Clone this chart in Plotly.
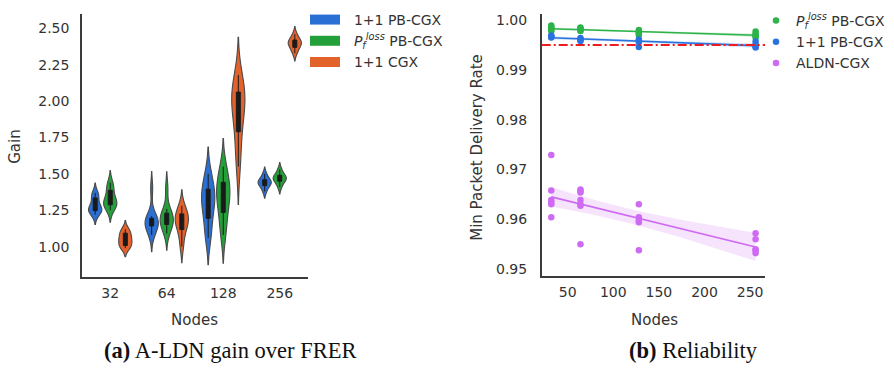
import numpy as np
import plotly.graph_objects as go

# ---------------- data: (a) gain violins ----------------
NODES = ["32", "64", "128", "256"]
SERIES_A = ["1+1 PB-CGX", "<i>P</i><sub><i>f</i></sub><sup><i>loss</i></sup> PB-CGX", "1+1 CGX"]

gain_11_pb = [
    [1.22, 1.24, 1.25, 1.26, 1.26, 1.28, 1.33, 1.35, 1.37],
    [1.08, 1.12, 1.15, 1.16, 1.17, 1.17, 1.19, 1.21, 1.40],
    [1.06, 1.12, 1.22, 1.28, 1.32, 1.34, 1.38, 1.44, 1.50],
    [1.38, 1.41, 1.43, 1.44, 1.445, 1.45, 1.47, 1.50],
]
gain_pf_pb = [
    [1.25, 1.28, 1.29, 1.30, 1.31, 1.33, 1.38, 1.41, 1.44],
    [1.09, 1.13, 1.16, 1.18, 1.19, 1.20, 1.22, 1.26, 1.40],
    [1.08, 1.16, 1.26, 1.31, 1.36, 1.38, 1.43, 1.48, 1.55],
    [1.41, 1.44, 1.46, 1.47, 1.47, 1.48, 1.50, 1.53],
]
gain_11_cgx = [
    [0.99, 1.00, 1.01, 1.04, 1.045, 1.06, 1.09, 1.10, 1.12],
    [1.00, 1.08, 1.13, 1.16, 1.18, 1.19, 1.22, 1.24, 1.28],
    [1.55, 1.70, 1.82, 1.92, 1.99, 2.01, 2.05, 2.10, 2.18],
    [2.33, 2.36, 2.38, 2.40, 2.40, 2.41, 2.43, 2.46],
]
GAIN_TICKS = [1.00, 1.25, 1.50, 1.75, 2.00, 2.25, 2.50]

# ---------------- data: (b) reliability ----------------
REL_NODES = [32, 64, 128, 256]
rel_pf_pb = [
    [0.9989, 0.9986, 0.9984, 0.9980, 0.9978],
    [0.9985, 0.9983, 0.9982, 0.9979, 0.9978],
    [0.9980, 0.9977, 0.9975, 0.9972, 0.9970],
    [0.9977, 0.9972, 0.9970, 0.9968, 0.9965],
]
rel_11_pb = [
    [0.9969, 0.9967, 0.9966, 0.9965],
    [0.9964, 0.9962, 0.9960, 0.9958],
    [0.9961, 0.9958, 0.9956, 0.9946],
    [0.9957, 0.9951, 0.9947, 0.9945],
]
rel_aldn = [
    [0.9729, 0.9658, 0.9639, 0.9635, 0.9630, 0.9604],
    [0.9660, 0.9657, 0.9654, 0.9639, 0.9630, 0.9627, 0.9550],
    [0.9630, 0.9604, 0.9598, 0.9594, 0.9538],
    [0.9572, 0.9560, 0.9540, 0.9538, 0.9532],
]
SERIES_B = ["<i>P</i><sub><i>f</i></sub><sup><i>loss</i></sup> PB-CGX", "1+1 PB-CGX", "ALDN-CGX"]
THRESHOLD = 0.995
REL_XTICKS = [50, 100, 150, 200, 250]
REL_YTICKS = [0.95, 0.96, 0.97, 0.98, 0.99, 1.00]

# ---------------- styles ----------------
VCOL = ["#2a6fd3", "#24a03a", "#e3622c"]
PCOL = ["#2db34a", "#2a72e0", "#cf6af2"]
PFILL = ["rgba(45,179,74,0.18)", "rgba(42,114,224,0.18)", "rgba(207,106,242,0.18)"]
TXT = "#333333"
AXC = "#3c3c3c"
FONT = "DejaVu Sans"
W, H = 894, 368
NB = "\u00a0"

fig = go.Figure()

# violins: one trace per (series, node) so each is scaled to its own width
for si, (name, data, col) in enumerate(zip(SERIES_A, [gain_11_pb, gain_pf_pb, gain_11_cgx], VCOL)):
    for ci_, (cat, vals) in enumerate(zip(NODES, data)):
        v = np.array(vals, float)
        bw = float(np.std(v, ddof=1) * len(v) ** -0.2)  # Scott's rule (as seaborn)
        fig.add_trace(go.Violin(
            x=[cat] * len(vals), y=vals, name=name, legendgroup=name, showlegend=False,
            offsetgroup=str(si), alignmentgroup="g", scalegroup=f"v{si}_{ci_}",
            fillcolor=col, opacity=1, line=dict(color="#4a4a4a", width=1.1),
            points=False, spanmode="soft", bandwidth=bw, scalemode="width",
            box=dict(visible=True, width=0.3, fillcolor="#1a1a1a",
                     line=dict(color="#1a1a1a", width=1)),
            meanline=dict(visible=False),
            xaxis="x", yaxis="y", hoverinfo="skip",
        ))
    # legend patch
    fig.add_trace(go.Scatter(
        x=[None], y=[None], mode="lines", name=NB + NB + name, legendgroup=name,
        line=dict(color=col, width=10), legend="legend", xaxis="x", yaxis="y",
    ))

# reliability scatter + regression
for i, (name, data) in enumerate(zip(SERIES_B, [rel_pf_pb, rel_11_pb, rel_aldn])):
    xs, ys = [], []
    for n, vals in zip(REL_NODES, data):
        xs += [n] * len(vals)
        ys += vals
    xs = np.array(xs, float)
    ys = np.array(ys, float)
    b, a = np.polyfit(xs, ys, 1)
    xg = np.linspace(xs.min(), xs.max(), 100)
    yg = a + b * xg
    resid = ys - (a + b * xs)
    s = np.sqrt(np.sum(resid ** 2) / (len(xs) - 2))
    sxx = np.sum((xs - xs.mean()) ** 2)
    ci = 2.0 * s * np.sqrt(1 / len(xs) + (xg - xs.mean()) ** 2 / sxx)
    fig.add_trace(go.Scatter(
        x=np.concatenate([xg, xg[::-1]]), y=np.concatenate([yg + ci, (yg - ci)[::-1]]),
        fill="toself", fillcolor=PFILL[i], line=dict(width=0), mode="lines",
        showlegend=False, hoverinfo="skip", xaxis="x2", yaxis="y2",
    ))
    fig.add_trace(go.Scatter(
        x=xg, y=yg, mode="lines", line=dict(color=PCOL[i], width=1.6),
        showlegend=False, hoverinfo="skip", xaxis="x2", yaxis="y2",
    ))
    fig.add_trace(go.Scatter(
        x=xs, y=ys, mode="markers", name=name,
        marker=dict(color=PCOL[i], size=6.5, line=dict(width=0)),
        legend="legend2", xaxis="x2", yaxis="y2",
    ))

fig.add_shape(type="line", xref="x2 domain", yref="y2", x0=0, x1=1,
              y0=THRESHOLD, y1=THRESHOLD,
              line=dict(color="#ee1c1c", width=2, dash="9px,3px,2px,3px"))

axis_common = dict(showline=True, linecolor=AXC, linewidth=1.5, showgrid=False,
                   zeroline=False, ticks="", tickfont=dict(family=FONT, size=14, color=TXT))

fig.update_layout(
    width=W, height=H, margin=dict(l=0, r=0, t=0, b=0),
    paper_bgcolor="white", plot_bgcolor="white",
    font=dict(family=FONT, color=TXT, size=14),
    violinmode="group", violingap=0.2, violingroupgap=0.12,
    xaxis=dict(domain=[82 / W, 308 / W], type="category", categoryorder="array",
               categoryarray=NODES, range=[-0.5, 3.5], anchor="y",
               ticklabelstandoff=3, **axis_common),
    yaxis=dict(domain=[1 - 277 / H, 1 - 12 / H], range=[0.793, 2.60], anchor="x",
               tickvals=GAIN_TICKS, tickformat=".2f", ticklabelstandoff=8, **axis_common),
    xaxis2=dict(domain=[541.7 / W, 765 / W], range=[21.5, 266.3], anchor="y2",
                tickvals=REL_XTICKS, ticklabelstandoff=3, **axis_common),
    yaxis2=dict(domain=[1 - 276 / H, 1 - 11.7 / H], range=[0.94867, 1.0013], anchor="x2",
                tickvals=REL_YTICKS, tickformat=".2f", ticklabelstandoff=10, **axis_common),
    legend=dict(x=305 / W, y=1 - 2 / H, xanchor="left", yanchor="top",
                bgcolor="rgba(0,0,0,0)", font=dict(family=FONT, size=14, color=TXT),
                itemwidth=30, tracegroupgap=0),
    legend2=dict(x=756 / W, y=1 - 3 / H, xanchor="left", yanchor="top",
                 bgcolor="rgba(0,0,0,0)", font=dict(family=FONT, size=14, color=TXT),
                 itemwidth=30),
)

ann = [
    dict(text="Gain", x=15 / W, y=1 - 146 / H, textangle=-90, font=dict(family=FONT, size=15, color=TXT)),
    dict(text="Min Packet Delivery Rate", x=477 / W, y=1 - 146 / H, textangle=-90,
         font=dict(family=FONT, size=15, color=TXT)),
    dict(text="Nodes", x=194 / W, y=1 - 321 / H, font=dict(family=FONT, size=15, color=TXT)),
    dict(text="Nodes", x=654 / W, y=1 - 321 / H, font=dict(family=FONT, size=15, color=TXT)),
    dict(text="<b>(a)</b> A-LDN gain over FRER", x=230 / W, y=1 - 351 / H,
         font=dict(family="Liberation Serif", size=22.5, color="#111111")),
    dict(text="<b>(b)</b> Reliability", x=693 / W, y=1 - 351 / H,
         font=dict(family="Liberation Serif", size=22.5, color="#111111")),
]
for a_ in ann:
    a_.update(xref="paper", yref="paper", showarrow=False, xanchor="center", yanchor="middle")
    fig.add_annotation(**a_)

fig.write_html("out.html")
